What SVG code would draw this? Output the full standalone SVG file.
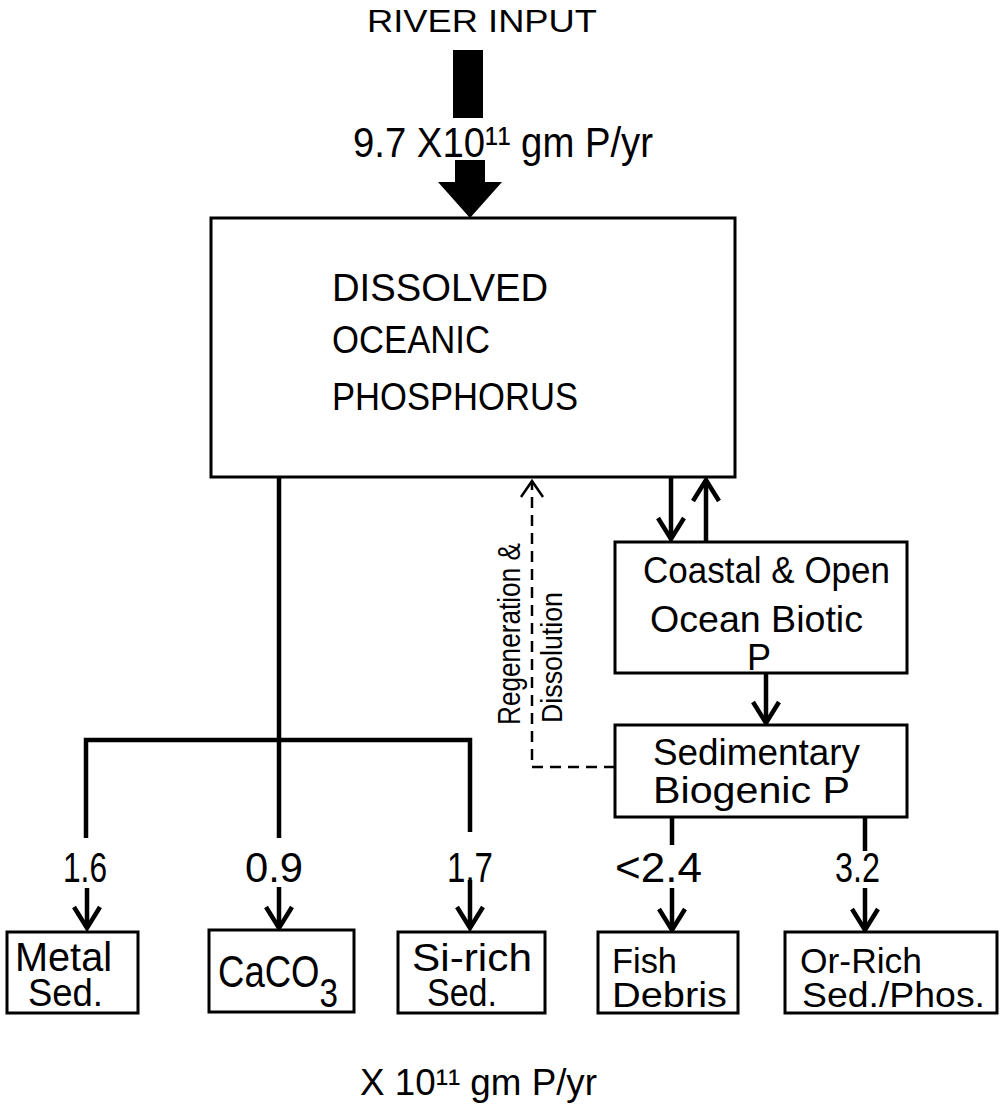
<svg xmlns="http://www.w3.org/2000/svg" width="1003" height="1106" viewBox="0 0 1003 1106">
<style>
text{font-family:"Liberation Sans",Arial,sans-serif;fill:#000}
.box{fill:#fff;stroke:#000;stroke-width:3}
.ln{fill:none;stroke:#000;stroke-width:4.5}
.dash{fill:none;stroke:#000;stroke-width:2.5;stroke-dasharray:11 7}
</style>
<defs>
<marker id="ah" markerUnits="userSpaceOnUse" viewBox="-24 -16 28 32" markerWidth="28" markerHeight="32" refX="0" refY="0" orient="auto" overflow="visible">
<path d="M-21,-13 L0,0 L-21,13" fill="none" stroke="#000" stroke-width="4.5" stroke-linejoin="miter"/>
</marker>
<marker id="ahd" markerUnits="userSpaceOnUse" viewBox="-20 -14 24 28" markerWidth="24" markerHeight="28" refX="0" refY="0" orient="auto" overflow="visible">
<path d="M-16,-11 L0,0 L-16,11" fill="none" stroke="#000" stroke-width="2.5"/>
</marker>
</defs>
<rect width="1003" height="1106" fill="#fff"/>

<g id="river-input">
<text x="367" y="32" font-size="31" textLength="230" lengthAdjust="spacingAndGlyphs">RIVER INPUT</text>
<rect x="453" y="50" width="30" height="68" fill="#000"/>
<text x="353" y="157" font-size="43" textLength="300" lengthAdjust="spacingAndGlyphs">9.7 X10¹¹ gm P/yr</text>
<path d="M455,160 H485 V182 H502 L470,218 L438,182 H455 Z" fill="#000"/>
</g>

<g id="dissolved">
<rect class="box" x="211" y="218" width="524" height="259"/>
<text x="332" y="301" font-size="38" textLength="216" lengthAdjust="spacingAndGlyphs">DISSOLVED</text>
<text x="332" y="353" font-size="38" textLength="158" lengthAdjust="spacingAndGlyphs">OCEANIC</text>
<text x="332" y="410" font-size="38" textLength="246" lengthAdjust="spacingAndGlyphs">PHOSPHORUS</text>
</g>

<g id="connectors">
<path class="ln" d="M671,477 V539" marker-end="url(#ah)"/>
<path class="ln" d="M706,542 V480" marker-end="url(#ah)"/>
<path class="ln" d="M766,673 V723" marker-end="url(#ah)"/>
<path class="dash" d="M615,767 H532 V481" marker-end="url(#ahd)"/>
<path class="ln" d="M279,477 V838"/>
<path class="ln" d="M86,838 V740 H470 V832"/>
<path class="ln" d="M87,888 V928" marker-end="url(#ah)"/>
<path class="ln" d="M279,887 V928" marker-end="url(#ah)"/>
<path class="ln" d="M470,880 V928" marker-end="url(#ah)"/>
<path class="ln" d="M672,817 V845"/>
<path class="ln" d="M865,817 V851"/>
<path class="ln" d="M672,888 V930" marker-end="url(#ah)"/>
<path class="ln" d="M865,888 V930" marker-end="url(#ah)"/>
</g>

<g id="labels">
<text transform="rotate(-90 520 725)" x="520" y="725" font-size="31" textLength="182" lengthAdjust="spacingAndGlyphs">Regeneration &amp;</text>
<text transform="rotate(-90 562 723)" x="562" y="723" font-size="30" textLength="131" lengthAdjust="spacingAndGlyphs">Dissolution</text>
<text x="63" y="882" font-size="42" textLength="44" lengthAdjust="spacingAndGlyphs">1.6</text>
<text x="245" y="882" font-size="42" textLength="58" lengthAdjust="spacingAndGlyphs">0.9</text>
<text x="447" y="882" font-size="42" textLength="46" lengthAdjust="spacingAndGlyphs">1.7</text>
<text x="615" y="882" font-size="42" textLength="87" lengthAdjust="spacingAndGlyphs">&lt;2.4</text>
<text x="835" y="882" font-size="42" textLength="45" lengthAdjust="spacingAndGlyphs">3.2</text>
<text x="360" y="1095" font-size="37" textLength="237" lengthAdjust="spacingAndGlyphs">X 10¹¹ gm P/yr</text>
</g>

<g id="coastal">
<rect class="box" x="615" y="542" width="292" height="131"/>
<text x="643" y="583" font-size="36" textLength="247" lengthAdjust="spacingAndGlyphs">Coastal &amp; Open</text>
<text x="650" y="632" font-size="36" textLength="213" lengthAdjust="spacingAndGlyphs">Ocean Biotic</text>
<text x="747" y="670" font-size="36">P</text>
</g>

<g id="sedimentary">
<rect class="box" x="615" y="725" width="292" height="92"/>
<text x="653" y="765" font-size="37" textLength="207" lengthAdjust="spacingAndGlyphs">Sedimentary</text>
<text x="653" y="803" font-size="37" textLength="197" lengthAdjust="spacingAndGlyphs">Biogenic P</text>
</g>

<g id="metal">
<rect class="box" x="7" y="932" width="131" height="81"/>
<text x="15" y="971" font-size="40" textLength="97" lengthAdjust="spacingAndGlyphs">Metal</text>
<text x="28" y="1006" font-size="38" textLength="75" lengthAdjust="spacingAndGlyphs">Sed.</text>
</g>

<g id="caco3">
<rect class="box" x="209" y="930" width="145" height="82"/>
<text x="218" y="987" font-size="44" textLength="120" lengthAdjust="spacingAndGlyphs">CaCO<tspan dy="20" font-size="40">3</tspan></text>
</g>

<g id="si-rich">
<rect class="box" x="398" y="932" width="147" height="81"/>
<text x="412" y="971" font-size="39" textLength="120" lengthAdjust="spacingAndGlyphs">Si-rich</text>
<text x="427" y="1006" font-size="38" textLength="70" lengthAdjust="spacingAndGlyphs">Sed.</text>
</g>

<g id="fish">
<rect class="box" x="598" y="932" width="140" height="81"/>
<text x="612" y="973" font-size="35" textLength="65" lengthAdjust="spacingAndGlyphs">Fish</text>
<text x="612" y="1007" font-size="35" textLength="115" lengthAdjust="spacingAndGlyphs">Debris</text>
</g>

<g id="or-rich">
<rect class="box" x="785" y="932" width="212" height="81"/>
<text x="800" y="973" font-size="35" textLength="122" lengthAdjust="spacingAndGlyphs">Or-Rich</text>
<text x="802" y="1007" font-size="35" textLength="183" lengthAdjust="spacingAndGlyphs">Sed./Phos.</text>
</g>
</svg>
